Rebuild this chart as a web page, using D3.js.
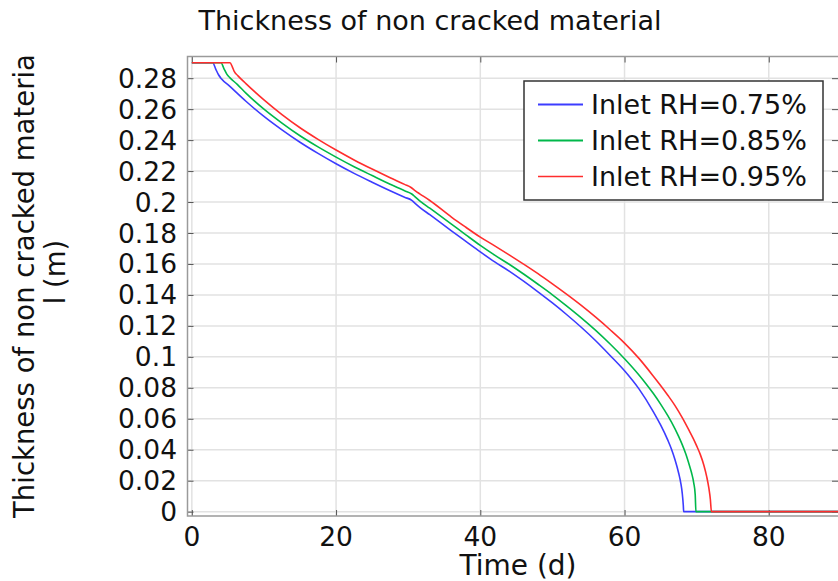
<!DOCTYPE html>
<html>
<head>
<meta charset="utf-8">
<script src="https://cdn.jsdelivr.net/npm/d3@7"></script>
<style>
  html, body { margin: 0; padding: 0; background: #fff; }
  svg { display: block; }
  text { font-family: "DejaVu Sans", sans-serif; fill: #111; }
</style>
</head>
<body>
<svg id="chart" width="838" height="581"></svg>
<script>
// ---- data ----
const seriesNames = ["Inlet RH=0.75%", "Inlet RH=0.85%", "Inlet RH=0.95%"];
const seriesColors = ["#3c3cff", "#00b84a", "#ff2d2d"];

const timeRH075 = [0, 2.9, 3.3, 3.7, 4.1, 5.2, 7.5, 10, 12.5, 15, 17.5, 20, 22.5, 25, 27.5, 29.5, 30.5, 31.0, 31.6, 33, 36, 38, 40, 42, 44, 46, 48, 50, 52, 54, 56, 58, 60, 62, 64, 65, 66, 66.5, 67, 67.5, 67.8, 68.0, 68.15, 68.2, 90];
const thickRH075 = [0.29, 0.29, 0.2860, 0.2822, 0.2796, 0.2750, 0.2651, 0.2553, 0.2466, 0.2386, 0.2314, 0.2247, 0.2185, 0.2128, 0.2073, 0.2031, 0.2011, 0.1990, 0.1966, 0.1918, 0.1814, 0.1746, 0.1678, 0.1613, 0.1554, 0.1489, 0.1420, 0.1348, 0.1272, 0.1191, 0.1104, 0.1009, 0.0910, 0.0793, 0.0645, 0.0560, 0.0462, 0.0405, 0.0335, 0.0250, 0.0185, 0.0120, 0.0040, 0, 0];

const timeRH085 = [0, 4.05, 4.45, 4.85, 5.3, 6.3, 7.5, 10, 12.5, 15, 17.5, 20, 22.5, 25, 27.5, 29.5, 30.5, 31.0, 31.6, 33, 36, 38, 40, 42, 44, 46, 48, 50, 52, 54, 56, 58, 60, 62, 63, 64, 65, 66, 67, 67.5, 68, 68.5, 69, 69.3, 69.6, 69.8, 69.9, 90];
const thickRH085 = [0.29, 0.29, 0.2862, 0.2826, 0.2802, 0.2760, 0.2703, 0.2600, 0.2510, 0.2428, 0.2356, 0.2290, 0.2228, 0.2171, 0.2115, 0.2073, 0.2052, 0.2032, 0.2008, 0.1960, 0.1857, 0.1788, 0.1720, 0.1657, 0.1598, 0.1535, 0.1469, 0.1401, 0.1328, 0.1252, 0.1171, 0.1083, 0.0988, 0.0883, 0.0825, 0.0763, 0.0695, 0.0620, 0.0535, 0.0486, 0.0433, 0.0372, 0.0298, 0.0250, 0.0185, 0.0110, 0, 0];

const timeRH095 = [0, 5.3, 5.6, 5.9, 6.4, 7.5, 10, 12.5, 15, 17.5, 20, 22.5, 25, 27.5, 29.5, 30.4, 31.0, 31.6, 33, 36, 38, 40, 42, 44, 46, 48, 50, 52, 54, 56, 58, 60, 62, 64, 65, 66, 67, 68, 69, 69.5, 70, 70.5, 71, 71.4, 71.7, 71.9, 72.05, 90];
const thickRH095 = [0.29, 0.29, 0.2875, 0.2842, 0.2815, 0.2765, 0.2660, 0.2565, 0.2480, 0.2405, 0.2336, 0.2272, 0.2213, 0.2157, 0.2114, 0.2094, 0.2072, 0.2053, 0.2010, 0.1903, 0.1837, 0.1773, 0.1717, 0.1659, 0.1599, 0.1537, 0.1471, 0.1403, 0.1332, 0.1256, 0.1175, 0.1089, 0.0990, 0.0875, 0.0815, 0.0752, 0.0685, 0.0607, 0.0520, 0.0475, 0.0425, 0.0370, 0.0300, 0.0225, 0.0150, 0.0080, 0, 0];

const xTicks = [0, 20, 40, 60, 80];
const yTicks = [0, 0.02, 0.04, 0.06, 0.08, 0.1, 0.12, 0.14, 0.16, 0.18, 0.2, 0.22, 0.24, 0.26, 0.28];

const titleText = "Thickness of non cracked material";
const xLabel = "Time (d)";
const yLabelLines = ["Thickness of non cracked materia", "l (m)"];

// ---- chart ----
const svg = d3.select("#chart");
const L = 187.5, R = 838, T = 56.5, B = 516;

const x = d3.scaleLinear().domain([-0.6, 89.6]).range([L, R]);
const y = d3.scaleLinear().domain([-0.0028, 0.294]).range([B, T]);

// grid
const grid = svg.append("g");
grid.selectAll("line.gx").data(xTicks).join("line")
  .attr("x1", d => x(d)).attr("x2", d => x(d)).attr("y1", T).attr("y2", B)
  .attr("stroke", "#e2e2e2").attr("stroke-width", 1.5);
grid.selectAll("line.gy").data(yTicks).join("line")
  .attr("x1", L).attr("x2", R).attr("y1", d => y(d)).attr("y2", d => y(d))
  .attr("stroke", "#e2e2e2").attr("stroke-width", 1.5);

// axes (ticks inward, on all four sides)
const fmtY = d => String(+d.toFixed(2));
const tickStyle = g => { g.select(".domain").remove(); g.selectAll("line").attr("stroke", "#555"); };
svg.append("g").attr("transform", `translate(${L},0)`)
  .call(d3.axisRight(y).tickValues(yTicks).tickSize(6).tickFormat("")).call(tickStyle);
svg.append("g").attr("transform", `translate(${R},0)`)
  .call(d3.axisLeft(y).tickValues(yTicks).tickSize(6).tickFormat("")).call(tickStyle);
svg.append("g").attr("transform", `translate(0,${B})`)
  .call(d3.axisTop(x).tickValues(xTicks).tickSize(6).tickFormat("")).call(tickStyle);
svg.append("g").attr("transform", `translate(0,${T})`)
  .call(d3.axisBottom(x).tickValues(xTicks).tickSize(6).tickFormat("")).call(tickStyle);

// tick labels
svg.append("g").selectAll("text").data(yTicks).join("text")
  .attr("x", 177).attr("y", d => y(d)).attr("dy", "0.36em")
  .attr("text-anchor", "end").attr("font-size", 26.5)
  .text(d => fmtY(d));
svg.append("g").selectAll("text").data(xTicks).join("text")
  .attr("x", d => x(d)).attr("y", 546)
  .attr("text-anchor", "middle").attr("font-size", 26.5)
  .text(d => d);

// frame
svg.append("rect").attr("x", L).attr("y", T).attr("width", R - L + 5).attr("height", B - T)
  .attr("fill", "none").attr("stroke", "#9a9a9a").attr("stroke-width", 1.5);

// lines
const series = [
  { name: seriesNames[0], color: seriesColors[0], t: timeRH075, v: thickRH075 },
  { name: seriesNames[1], color: seriesColors[1], t: timeRH085, v: thickRH085 },
  { name: seriesNames[2], color: seriesColors[2], t: timeRH095, v: thickRH095 }
];
const line = d3.line().curve(d3.curveMonotoneX).x(d => x(d[0])).y(d => y(d[1]));
svg.append("g").selectAll("path").data(series).join("path")
  .attr("d", s => line(s.t.map((t, i) => [t, s.v[i]])))
  .attr("fill", "none").attr("stroke", s => s.color).attr("stroke-width", 1.6);

// legend
const lg = svg.append("g");
lg.append("rect").attr("x", 524).attr("y", 81).attr("width", 299).attr("height", 119)
  .attr("fill", "#fff").attr("stroke", "#333").attr("stroke-width", 1.5);
series.forEach((s, i) => {
  const cy = 104.5 + i * 36;
  lg.append("line").attr("x1", 538).attr("x2", 583).attr("y1", cy).attr("y2", cy)
    .attr("stroke", s.color).attr("stroke-width", i < 2 ? 2 : 1.5);
  lg.append("text").attr("x", 591).attr("y", cy).attr("dy", "0.36em")
    .attr("font-size", 27).text(s.name);
});

// title and axis labels
svg.append("text").attr("x", 430).attr("y", 30).attr("text-anchor", "middle")
  .attr("font-size", 27).text(titleText);
svg.append("text").attr("x", 518).attr("y", 575).attr("text-anchor", "middle")
  .attr("font-size", 28).text(xLabel);
const yLabelCenters = [286, 272];
yLabelLines.forEach((t, i) => {
  const cx = 34 + i * 31;
  svg.append("text").attr("transform", `translate(${cx},${yLabelCenters[i]}) rotate(-90)`)
    .attr("text-anchor", "middle").attr("font-size", 27.5).text(t);
});
</script>
</body>
</html>
